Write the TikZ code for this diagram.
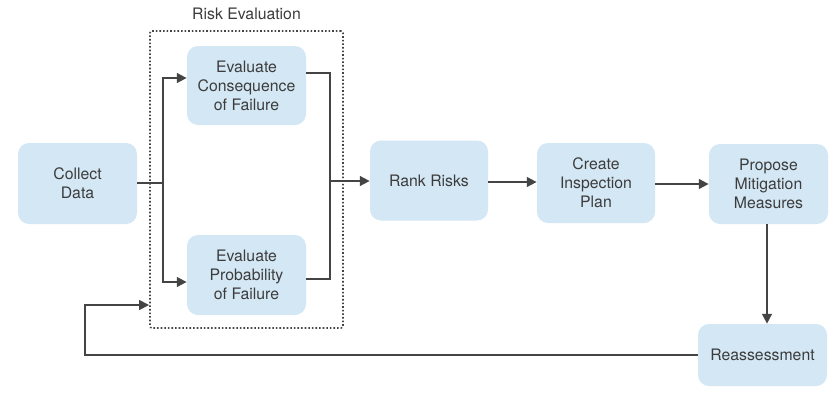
\documentclass[tikz,border=0pt]{standalone}
\usepackage{fontspec}
\setmainfont{TeX Gyre Heros}
\usetikzlibrary{arrows.meta,positioning}
\definecolor{boxfill}{HTML}{D4E7F4}
\definecolor{ink}{HTML}{444444}
\definecolor{txt}{HTML}{3C3C3C}
\begin{document}
\begin{tikzpicture}[x=1pt,y=-1pt,
  stepbox/.style={rectangle, rounded corners=11pt, fill=boxfill, draw=none,
    align=center, text=txt, inner sep=2pt,
    font=\fontsize{15.8}{19}\selectfont},
  conn/.style={draw=ink, line width=2.5pt},
  arr/.style={conn, -{Triangle[length=10pt,width=9.5pt]}},
]
\fill[white] (0,0) rectangle (837,416);
\useasboundingbox (0,0) rectangle (837,416);

% dotted risk-evaluation group
\node[draw=ink, dotted, line width=1.6pt, minimum width=193pt, minimum height=297pt,
  rounded corners=2pt, inner sep=0pt] (riskbox) at (246.5,179.5) {};
\node[text=txt, font=\fontsize{15.8}{19}\selectfont] (risklabel) at (246.5,14) {Risk Evaluation};

\node[stepbox, minimum width=119pt, minimum height=81pt] (collect) at (77.5,183.5) {Collect\\Data};
\node[stepbox, minimum width=119pt, minimum height=79pt] (evalc) at (246.5,85.5) {Evaluate\\Consequence\\of Failure};
\node[stepbox, minimum width=119pt, minimum height=80pt] (evalp) at (246.5,275) {Evaluate\\Probability\\of Failure};
\node[stepbox, minimum width=118pt, minimum height=80pt] (rank) at (429,180.5) {Rank Risks};
\node[stepbox, minimum width=118pt, minimum height=80pt] (create) at (596,183) {Create\\Inspection\\Plan};
\node[stepbox, minimum width=119pt, minimum height=80pt] (propose) at (768.5,184) {Propose\\Mitigation\\Measures};
\node[stepbox, minimum width=129pt, minimum height=62pt] (reass) at (762.5,355) {Reassessment};

\coordinate (split) at (163,183);
\coordinate (mergetop) at (330,73);
\coordinate (mergebot) at (330,279);
\coordinate (merge) at (330,181);
\coordinate (loopa) at (85,355);
\coordinate (loopb) at (85,305);

% fan out
\draw[conn] (collect.east |- split) -- (split);
\draw[arr] (split) |- ([yshift=7.5pt]evalc.west);
\draw[arr] (split) |- ([yshift=-7pt]evalp.west);
% merge
\draw[conn] (evalc.east |- mergetop) -- (mergetop) -- (mergebot) -- (evalp.east |- mergebot);
\draw[arr] (merge) -- (rank.west |- merge);
% chain
\draw[arr] (rank.east |- 0,182) -- (create.west |- 0,182);
\draw[arr] (create.east |- 0,184) -- (propose.west |- 0,184);
\draw[arr] (propose.south -| 767,0) -- (reass.north -| 767,0);
% feedback loop
\draw[arr] (reass.west) -- (loopa) -- (loopb) -- (riskbox.west |- loopb);
\end{tikzpicture}
\end{document}
